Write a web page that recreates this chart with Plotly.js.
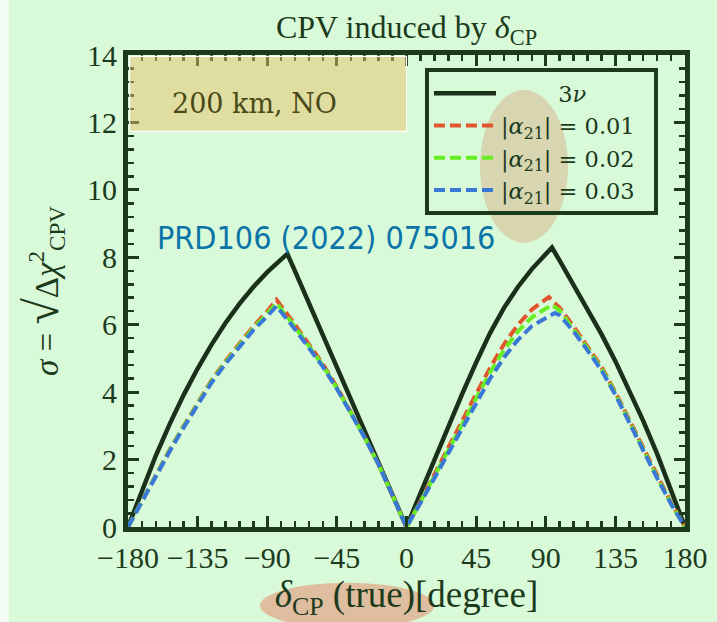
<!DOCTYPE html>
<html>
<head>
<meta charset="utf-8">
<script src="https://cdn.plot.ly/plotly-3.0.1.min.js"></script>
<style>html,body{margin:0;padding:0;background:#d9fad9;}#chart{width:717px;height:622px;}</style>
</head>
<body>
<div id="chart"></div>
<script>
// ---- data ----
const xBlack = [-180,-171,-162,-153,-144,-135,-126,-117,-108,-99,-90,-81,-77,-72,-63,-54,-45,-36,-27,-18,-9,0,9,18,27,36,45,54,63,72,81,90,94,99,108,117,126,135,144,153,162,171,180];
const yBlack = [0,1.1,2.12,3.06,3.92,4.7,5.41,6.05,6.62,7.12,7.56,7.94,8.1,7.58,6.63,5.68,4.74,3.79,2.84,1.89,0.95,0,1.0,2.0,2.98,3.95,4.88,5.75,6.5,7.12,7.65,8.1,8.29,7.9,7.17,6.47,5.72,4.92,4.07,3.15,2.17,1.12,0];

const xRed = [-180,-171,-162,-153,-144,-135,-126,-117,-108,-99,-90,-84,-72,-63,-54,-45,-36,-27,-18,-9,0,9,18,27,36,45,54,63,72,81,92,99,108,117,126,135,144,153,162,171,180];
const yRed = [0,0.78,1.55,2.3,3.0,3.7,4.35,4.92,5.45,5.95,6.4,6.74,6.0,5.42,4.83,4.15,3.42,2.66,1.85,0.95,0,0.76,1.54,2.34,3.15,3.95,4.72,5.42,6.0,6.45,6.82,6.5,5.95,5.35,4.75,4.0,3.17,2.32,1.5,0.72,0];

const xGreen = [-180,-171,-162,-153,-144,-135,-126,-117,-108,-99,-90,-84,-72,-63,-54,-45,-36,-27,-18,-9,0,9,18,27,36,45,54,63,72,81,94,99,108,117,126,135,144,153,162,171,180];
const yGreen = [0,0.77,1.53,2.28,2.98,3.67,4.32,4.88,5.4,5.9,6.33,6.64,5.93,5.36,4.79,4.12,3.41,2.66,1.85,0.95,0,0.74,1.5,2.28,3.06,3.83,4.58,5.25,5.8,6.22,6.59,6.42,5.88,5.3,4.7,3.96,3.13,2.28,1.47,0.7,0];

const xBlue = [-180,-171,-162,-153,-144,-135,-126,-117,-108,-99,-90,-84,-72,-63,-54,-45,-36,-27,-18,-9,0,9,18,27,36,45,54,63,72,81,96,99,108,117,126,135,144,153,162,171,180];
const yBlue = [0,0.76,1.5,2.25,2.95,3.63,4.28,4.84,5.35,5.84,6.25,6.55,5.86,5.3,4.75,4.1,3.4,2.65,1.85,0.95,0,0.71,1.45,2.2,2.95,3.68,4.4,5.03,5.55,5.96,6.35,6.28,5.8,5.24,4.65,3.92,3.1,2.25,1.45,0.68,0];

const seriesNames = ['3<i>ν</i>', '|<i>α</i><sub>21</sub>| = 0.01', '|<i>α</i><sub>21</sub>| = 0.02', '|<i>α</i><sub>21</sub>| = 0.03'];
const xTickVals = [-180,-135,-90,-45,0,45,90,135,180];
const yTickVals = [0,2,4,6,8,10,12,14];

// ---- styling ----
const ink = '#1c3a1c';
const serif = 'Liberation Serif, Times New Roman, serif';
const wideSerif = 'DejaVu Serif, serif';

const traces = [
  {x: xBlack, y: yBlack, mode: 'lines', name: '&nbsp;'.repeat(8) + seriesNames[0], line: {color: '#1a301a', width: 4.5}},
  {x: xRed, y: yRed, mode: 'lines', name: seriesNames[1] + '&nbsp;&nbsp;', line: {color: '#e0552d', width: 4, dash: '11px,5px'}},
  {x: xGreen, y: yGreen, mode: 'lines', name: seriesNames[2] + '&nbsp;&nbsp;', line: {color: '#66ee22', width: 4, dash: '11px,5px'}},
  {x: xBlue, y: yBlue, mode: 'lines', name: seriesNames[3] + '&nbsp;&nbsp;', line: {color: '#3a78d8', width: 4, dash: '11px,5px'}}
];

const axisCommon = {
  showgrid: false, zeroline: false, showline: true, linewidth: 5, linecolor: ink,
  mirror: 'allticks', ticks: 'inside', ticklen: 11, tickwidth: 3, tickcolor: ink,
  tickfont: {family: serif, size: 30, color: ink}, tickmode: 'array'
};

const layout = {
  width: 717, height: 622,
  paper_bgcolor: '#d9fad9', plot_bgcolor: '#d9fad9',
  margin: {l: 128, r: 32, t: 55, b: 95, autoexpand: false},
  showlegend: true,
  title: {text: 'CPV induced by <i>δ</i><sub>CP</sub>', x: 0.5, xref: 'paper', y: 0.957, yanchor: 'middle',
          font: {family: serif, size: 32, color: ink}},
  xaxis: Object.assign({}, axisCommon, {
    range: [-180, 180], tickvals: xTickVals,
    minor: {tick0: -180, dtick: 9, ticks: 'inside', ticklen: 6, tickwidth: 2.5, tickcolor: ink, showgrid: false},
    title: {text: '<i>δ</i><sub>CP</sub> (true)[degree]', font: {family: serif, size: 37, color: ink}, standoff: 10}
  }),
  yaxis: Object.assign({}, axisCommon, {
    range: [0, 14], tickvals: yTickVals,
    minor: {tick0: 0, dtick: 0.4, ticks: 'inside', ticklen: 6, tickwidth: 2.5, tickcolor: ink, showgrid: false},
    title: {text: '<i>σ</i> = <span style="font-size:48px">√</span>Δ<i>χ</i><sup>2</sup><sub>CPV</sub>',
            font: {family: serif, size: 33, color: ink}, standoff: 20}
  }),
  legend: {
    x: 0.9515, xanchor: 'right', y: 0.972, yanchor: 'top',
    bgcolor: 'rgba(0,0,0,0)', bordercolor: ink, borderwidth: 4,
    font: {family: wideSerif, size: 22.5, color: ink}, itemwidth: 62, tracegroupgap: 0
  },
  shapes: [
    {type: 'rect', xref: 'paper', yref: 'paper', x0: -0.2298, x1: -0.2137, y0: -0.25, y1: 1.2,
     fillcolor: '#f3fdf3', line: {width: 0}, layer: 'above'},
    {type: 'rect', xref: 'paper', yref: 'paper', x0: 0.003, x1: 0.500, y0: 0.838, y1: 0.997,
     fillcolor: 'rgba(231,192,103,0.5)', line: {color: '#ffffff', width: 1.2}, layer: 'above'},
    {type: 'circle', xref: 'paper', yref: 'paper', x0: 0.632, x1: 0.790, y0: 0.602, y1: 0.926,
     fillcolor: 'rgba(210,150,105,0.36)', line: {width: 0}, layer: 'above'},
    {type: 'circle', xref: 'paper', yref: 'paper', x0: 0.237, x1: 0.550, y0: -0.215, y1: -0.118,
     fillcolor: 'rgba(225,150,120,0.6)', line: {width: 0}, layer: 'above'}
  ],
  annotations: [
    {text: '200 km, NO', xref: 'paper', yref: 'paper', x: 0.227, y: 0.897, xanchor: 'center', yanchor: 'middle',
     showarrow: false, font: {family: wideSerif, size: 27, color: '#4a4a18'}},
    {text: 'PRD106 (2022) 075016', xref: 'paper', yref: 'paper', x: 0.048, y: 0.613, xanchor: 'left', yanchor: 'middle',
     showarrow: false, font: {family: 'DejaVu Sans Condensed, DejaVu Sans, sans-serif', size: 32, color: '#0a74a8'}}
  ]
};

Plotly.newPlot('chart', traces, layout, {displayModeBar: false, staticPlot: true});
</script>
</body>
</html>
